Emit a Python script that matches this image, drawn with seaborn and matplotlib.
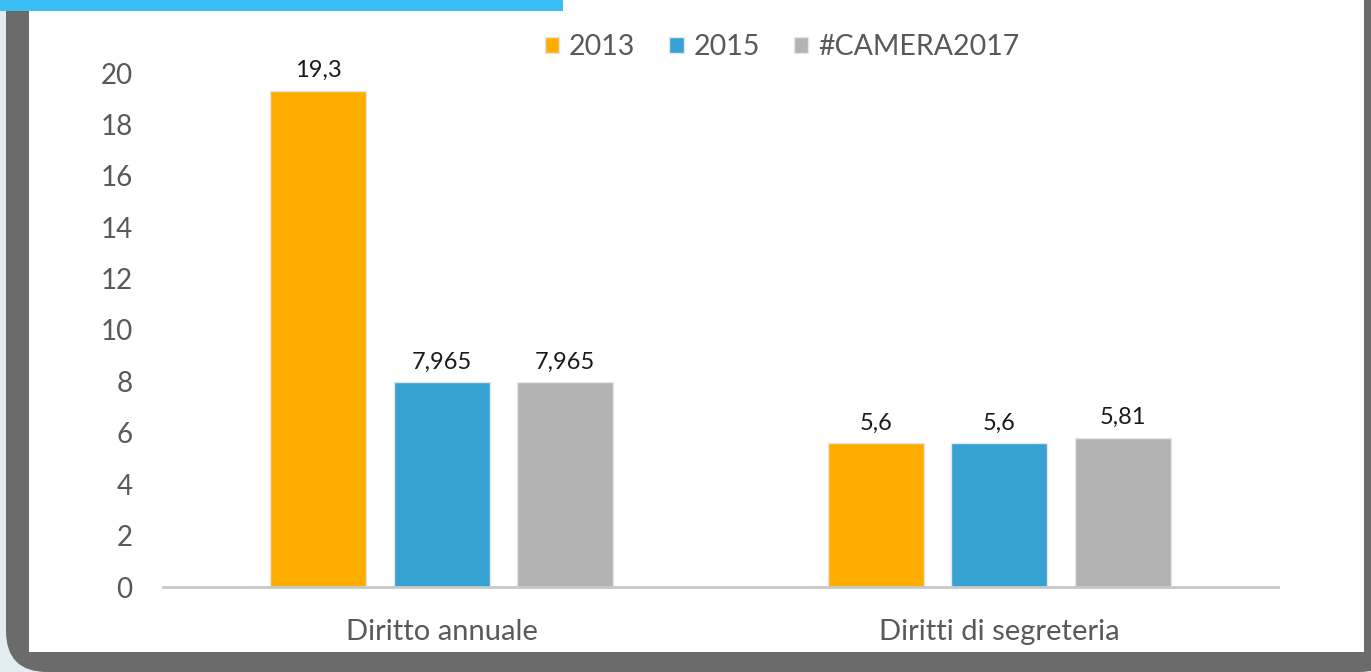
import pandas as pd
import numpy as np
import seaborn as sns
import matplotlib.pyplot as plt
from matplotlib.patches import Rectangle, FancyBboxPatch

# data
categories = ['Diritto annuale', 'Diritti di segreteria']
series = ['2013', '2015', '#CAMERA2017']
values_2013 = [19.3, 5.6]
values_2015 = [7.965, 5.6]
values_2017 = [7.965, 5.81]
colors = ['#FFAE00', '#36A2D3', '#B3B3B3']

df = pd.DataFrame({
    'categoria': categories * 3,
    'anno': [s for s in series for _ in categories],
    'valore': values_2013 + values_2015 + values_2017,
})

sns.set_theme(style='white')
plt.rcParams['font.family'] = ['Lato', 'DejaVu Sans']

W, H = 1371, 672
fig = plt.figure(figsize=(W / 100, H / 100), dpi=100, facecolor='#E1EDF0')

def px(x0, y0, x1, y1):
    # pixel box (top-left origin) -> figure fraction
    return x0 / W, 1 - y1 / H, (x1 - x0) / W, (y1 - y0) / H

# frame decoration (behind the axes)
x, y, w, h = px(6, -100, 1400, 672)
fig.patches.append(FancyBboxPatch((x, y), w, h, boxstyle='round,pad=0,rounding_size=0.03',
                                  transform=fig.transFigure, facecolor='#6B6B6B',
                                  edgecolor='none', zorder=-3, mutation_aspect=W / H))
x, y, w, h = px(29, 0, 1364, 652)
fig.patches.append(Rectangle((x, y), w, h, transform=fig.transFigure,
                             facecolor='white', edgecolor='none', zorder=-2))
x, y, w, h = px(0, 0, 563, 11)
fig.patches.append(Rectangle((x, y), w, h, transform=fig.transFigure,
                             facecolor='#3BBEF5', edgecolor='none', zorder=-1))

ax = fig.add_axes(px(163, 73, 1278, 587))
ax.set_facecolor('none')
sns.barplot(data=df, x='categoria', y='valore', hue='anno', palette=colors,
            width=0.665, gap=0.224, ax=ax, saturation=1,
            edgecolor='#E6E6E6', linewidth=1)

for cont in ax.containers:
    labels = [f'{b.get_height():g}'.replace('.', ',') for b in cont]
    ax.bar_label(cont, labels=labels, padding=7, fontsize=17, color='#1A1A1A')

ax.set_xlim(-0.5, 1.5)
ax.set_ylim(0, 20)
ax.set_yticks(range(0, 21, 2))
ax.set_xlabel('')
ax.set_ylabel('')
for s in ['left', 'right', 'top']:
    ax.spines[s].set_visible(False)
ax.spines['bottom'].set_color('#C8C8C8')
ax.spines['bottom'].set_linewidth(2)
ax.tick_params(axis='y', length=0, pad=22, labelsize=20, labelcolor='#595959')
ax.tick_params(axis='x', length=0, pad=23, labelsize=21, labelcolor='#595959')

handles, labels = ax.get_legend_handles_labels()
ax.get_legend().remove()
fig.legend(handles, labels, loc='center', bbox_to_anchor=(782 / W, 1 - 47 / H),
           ncol=3, frameon=False, fontsize=20.5, labelcolor='#595959',
           handlelength=0.5, handleheight=0.5, handletextpad=0.35, columnspacing=1.2)

fig.savefig('out.png', dpi=100, facecolor=fig.get_facecolor())
